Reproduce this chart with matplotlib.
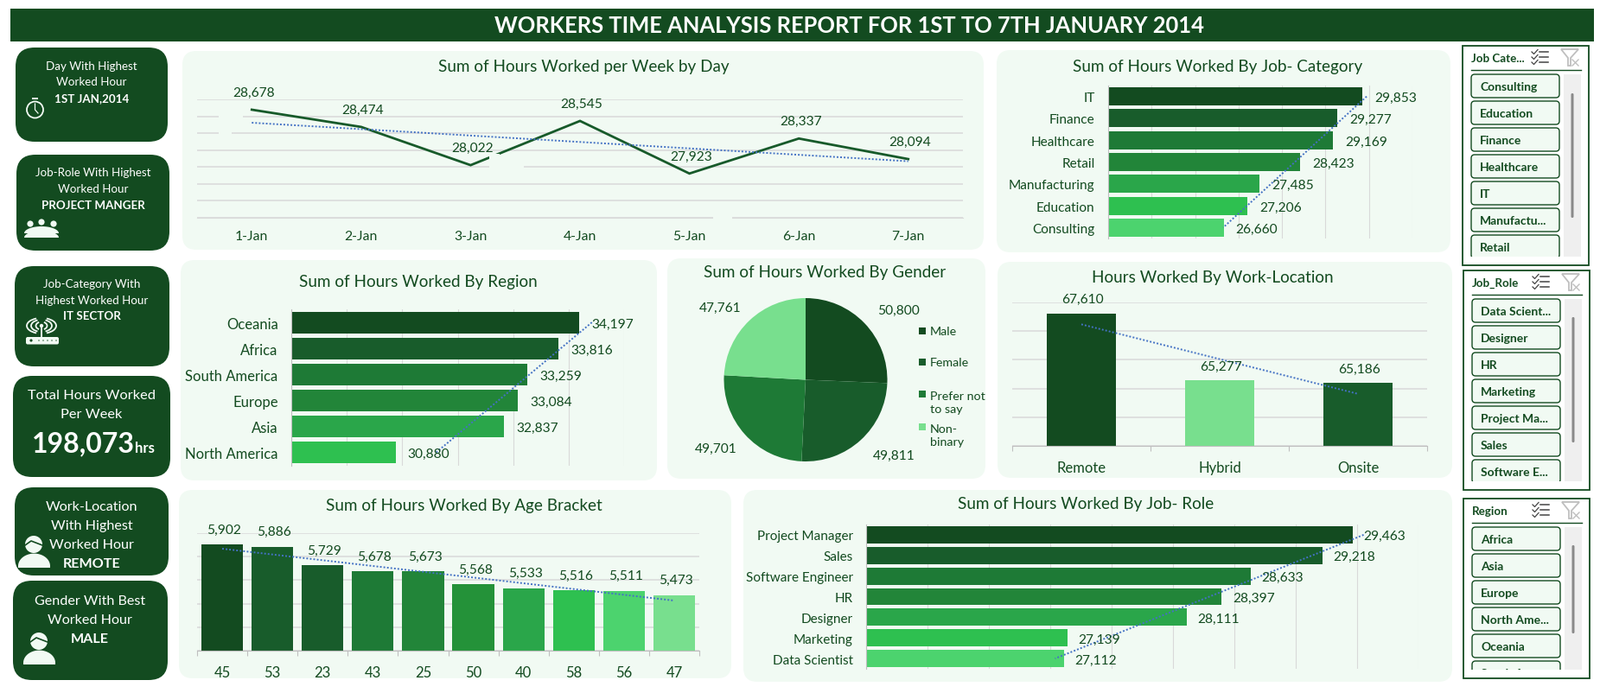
import numpy as np
import matplotlib
matplotlib.use("Agg")
import matplotlib.pyplot as plt
from matplotlib.patches import FancyBboxPatch, Rectangle, Circle, Polygon, Arc
from matplotlib.ticker import MultipleLocator

plt.rcParams['font.family'] = ['Lato', 'DejaVu Sans']

# ---------- data ----------
days = ['1-Jan', '2-Jan', '3-Jan', '4-Jan', '5-Jan', '6-Jan', '7-Jan']
day_hours = [28678, 28474, 28022, 28545, 27923, 28337, 28094]
job_cats = ['IT', 'Finance', 'Healthcare', 'Retail', 'Manufacturing', 'Education', 'Consulting']
job_cat_hours = [29853, 29277, 29169, 28423, 27485, 27206, 26660]
regions = ['Oceania', 'Africa', 'South America', 'Europe', 'Asia', 'North America']
region_hours = [34197, 33816, 33259, 33084, 32837, 30880]
genders = ['Male', 'Female', 'Prefer not\nto say', 'Non-\nbinary']
gender_hours = [50800, 49811, 49701, 47761]
locations = ['Remote', 'Hybrid', 'Onsite']
location_hours = [67610, 65277, 65186]
ages = ['45', '53', '23', '43', '25', '50', '40', '58', '56', '47']
age_hours = [5902, 5886, 5729, 5678, 5673, 5568, 5533, 5516, 5511, 5473]
roles = ['Project Manager', 'Sales', 'Software Engineer', 'HR', 'Designer', 'Marketing', 'Data Scientist']
role_hours = [29463, 29218, 28633, 28397, 28111, 27139, 27112]

slicer_job_cat = ['Consulting', 'Education', 'Finance', 'Healthcare', 'IT', 'Manufactu...', 'Retail']
slicer_job_role = ['Data Scient...', 'Designer', 'HR', 'Marketing', 'Project Ma...', 'Sales', 'Software E...']
slicer_region = ['Africa', 'Asia', 'Europe', 'North Ame...', 'Oceania', 'South A...']

# ---------- style ----------
W, H = 1851, 803
SHIFT = 1
DARK = '#134B20'
LINEC = '#175A2A'
PANEL = '#F1FAF3'
GRID = '#D9D9D9'
AXISC = '#BFBFBF'
TREND = '#4472C4'
ICON = '#F1FAF3'
G7 = ['#134B20', '#185C2B', '#1E7A36', '#228539', '#2AA64A', '#2EC050', '#4CD36E']
G6 = G7[:6]
G10 = ['#134B20', '#185C2B', '#185C2B', '#1E7A36', '#228539', '#249239', '#2AA64A', '#2EC050', '#4CD36E', '#78DF8E']
GPIE = ['#134B20', '#185C2B', '#1E7A36', '#78DF8E']
GLOC = ['#134B20', '#78DF8E', '#185C2B']
VAL = 11.2
TTL = 13.6
TREND_STYLE = dict(color=TREND, lw=1.4, ls=(0, (1, 1.1)))

fig = plt.figure(figsize=(W / 100, H / 100), dpi=100, facecolor='white')
bg = fig.add_axes([0, 0, 1, 1], zorder=0)
bg.set_xlim(0, W)
bg.set_ylim(H - SHIFT, -SHIFT)
bg.axis('off')


def px_axes(x0, y0, x1, y1, z=2):
    y0 += SHIFT
    y1 += SHIFT
    ax = fig.add_axes([x0 / W, 1 - y1 / H, (x1 - x0) / W, (y1 - y0) / H], zorder=z)
    ax.patch.set_alpha(0)
    for s in ax.spines.values():
        s.set_visible(False)
    return ax


def rbox(x0, y0, x1, y1, r, fc, ec='none', lw=0, **kw):
    p = FancyBboxPatch((x0, y0), x1 - x0, y1 - y0, boxstyle=f'round,pad=0,rounding_size={r}',
                       fc=fc, ec=ec, lw=lw, **kw)
    bg.add_patch(p)
    return p


def txt(x, y, s, size, color=DARK, bold=False, ha='center', va='center', **kw):
    return bg.text(x, y, s, fontsize=size, color=color, fontweight='bold' if bold else 'normal',
                   ha=ha, va=va, **kw)


def trend(values):
    idx = np.arange(len(values))
    m, c = np.polyfit(idx, values, 1)
    return idx, m * idx + c


def hbar(rect, cats, vals, colors, lim, step, catsize, off=10):
    ax = px_axes(*rect)
    ypos = np.arange(len(cats))
    ax.barh(ypos, vals, height=0.83, color=colors, zorder=2)
    ax.set_xlim(*lim)
    ax.set_ylim(len(cats) - 0.5, -0.5)
    ax.xaxis.set_major_locator(MultipleLocator(step))
    ax.grid(axis='x', color=GRID, lw=0.8, zorder=1)
    ax.set_axisbelow(True)
    ax.spines['left'].set_visible(True)
    ax.spines['left'].set_color(AXISC)
    ax.set_yticks(ypos, cats)
    ax.tick_params(axis='y', length=0, pad=11, labelsize=catsize, labelcolor=DARK)
    ax.tick_params(axis='x', length=0, labelbottom=False)
    idx, t = trend(vals)
    ax.plot(t, idx, zorder=3, **TREND_STYLE)
    for i, v in enumerate(vals):
        ax.annotate(f'{v:,}', (v, i), xytext=(off, -1), textcoords='offset points', ha='left',
                    va='center', fontsize=VAL, color=DARK, zorder=4, annotation_clip=False)
    return ax


def vaxis_style(ax, n, catsize):
    ax.set_xlim(-0.5, n - 0.5)
    ax.grid(axis='y', color=GRID, lw=1.1, zorder=1)
    ax.set_axisbelow(True)
    ax.tick_params(axis='y', length=0, labelleft=False)
    ax.spines['bottom'].set_visible(True)
    ax.spines['bottom'].set_color(AXISC)
    ax.set_xticks(np.arange(n + 1) - 0.5, minor=True)
    ax.tick_params(axis='x', which='major', length=0, pad=12, labelsize=catsize, labelcolor=DARK)
    ax.tick_params(axis='x', which='minor', length=4, width=0.8, color=AXISC)


# ---------- header ----------
bg.add_patch(Rectangle((12, 10), 1832, 38, fc=DARK, ec='none'))
txt(982, 29, 'WORKERS TIME ANALYSIS REPORT FOR 1ST TO 7TH JANUARY 2014', 18.4, 'white', True)

# ---------- panels ----------
for b in [(211, 59, 1138, 289), (1153, 58, 1678, 292), (209, 301, 760, 556), (772, 299, 1140, 554),
          (1154, 303, 1680, 553), (207, 567, 846, 785), (860, 567, 1680, 789)]:
    rbox(*b, 16, PANEL)

for x, y, s in [(675, 77, 'Sum of Hours Worked per Week by Day'),
                (1409, 76, 'Sum of Hours Worked By Job- Category'),
                (484, 326, 'Sum of Hours Worked By Region'),
                (954, 315, 'Sum of Hours Worked By Gender'),
                (1403, 321, 'Hours Worked By Work-Location'),
                (537, 585, 'Sum of Hours Worked By Age Bracket'),
                (1256, 583, 'Sum of Hours Worked By Job- Role')]:
    txt(x, y, s, TTL)

# ---------- KPI cards ----------
for b in [(18, 55, 194, 164), (19, 179, 196, 290), (17, 308, 196, 424),
          (15, 435, 197, 552), (17, 564, 195, 666), (15, 672, 194, 787)]:
    rbox(*b, 22, DARK)

S = 9.6
W_ = 'white'
txt(106, 76, 'Day With Highest', S, W_)
txt(106, 94, 'Worked Hour', S, W_)
txt(106, 113, '1ST JAN,2014', S, W_, True)
txt(108, 199, 'Job-Role With Highest', S, W_)
txt(108, 218, 'Worked Hour', S, W_)
txt(108, 237, 'PROJECT MANGER', S, W_, True)
txt(106, 328, 'Job-Category With', S, W_)
txt(106, 347, 'Highest Worked Hour', S, W_)
txt(106, 365, 'IT SECTOR', S, W_, True)
txt(106, 457, 'Total Hours Worked', 11.8, W_)
txt(106, 479, 'Per Week', 11.8, W_)
txt(37, 513, '198,073', 23, W_, True, ha='left')
txt(156, 518, 'hrs', 12, W_, True, ha='left')
for y, s, b in [(586, 'Work-Location', False), (608, 'With Highest', False), (630, 'Worked Hour', False), (652, 'REMOTE', True)]:
    txt(106, y, s, 11.6, W_, b)
for y, s, b in [(695, 'Gender With Best', False), (717, 'Worked Hour', False), (739, 'MALE', True)]:
    txt(104, y, s, 11.6, W_, b)


# icons (decoration)
def half_ellipse(cx, base, rx, ry, **kw):
    t = np.linspace(np.pi, 2 * np.pi, 40)
    pts = np.c_[cx + rx * np.cos(t), base + ry * np.sin(t)]
    bg.add_patch(Polygon(pts, closed=True, fc=ICON, ec='none', zorder=3, **kw))


def person(hx, hy, bx, by, bw, bh):
    bg.add_patch(Circle((hx, hy), 10, fc=ICON, ec='none', zorder=3))
    bg.plot([hx - 10, hx - 3, hx + 10], [hy + 1, hy - 4, hy + 1], color=DARK, lw=1.2, zorder=4)
    half_ellipse(bx, by - 1, bw / 2, bh * 0.9)
    bg.add_patch(Rectangle((bx - bw / 2, by - 2), bw, 3, fc=ICON, ec='none', zorder=3))


bg.add_patch(Circle((40.5, 127), 9.5, fc='none', ec=ICON, lw=1.3, zorder=3))
bg.add_patch(Rectangle((37, 113), 7, 2, fc=ICON, ec='none', zorder=3))
bg.plot([40.5, 40.5, 44], [120, 127, 131], color=ICON, lw=0.9, zorder=3)
for hx, hy in [(35, 259), (48, 257), (62, 259)]:
    bg.add_patch(Circle((hx, hy), 3.6, fc=ICON, ec='none', zorder=3))
half_ellipse(48, 270, 20, 8)
half_ellipse(48, 275, 20, 8)
bg.plot([48, 48], [377, 391], color=ICON, lw=1.4, zorder=3)
bg.add_patch(Circle((48, 377), 2.2, fc=ICON, ec='none', zorder=3))
for dw, dh in ((13, 9), (24, 14), (34, 18)):
    bg.add_patch(Arc((48, 377), dw, dh, theta1=-55, theta2=55, ec=ICON, lw=1.3, zorder=3))
    bg.add_patch(Arc((48, 377), dw, dh, theta1=125, theta2=235, ec=ICON, lw=1.3, zorder=3))
bg.add_patch(FancyBboxPatch((30, 390), 38, 8.5, boxstyle='round,pad=0,rounding_size=2', fc=ICON, ec='none', zorder=3))
bg.add_patch(Circle((36, 394), 1.6, fc=DARK, ec='none', zorder=4))
for dx in (45, 50, 55, 60, 65):
    bg.add_patch(Circle((dx, 394), 0.7, fc=DARK, ec='none', zorder=4))
person(39, 630, 39.5, 656, 37, 16)
person(45, 742, 45.5, 768, 37, 16)


# ---------- slicers ----------
def slicer(x0, y0, x1, y1, title, items, th0, th1):
    bg.add_patch(Rectangle((x0, y0), x1 - x0, y1 - y0, fc='white', ec=DARK, lw=1.3, zorder=1))
    txt(x0 + 10, y0 + 14, title, 9.6, DARK, True, ha='left', zorder=2)
    bg.plot([x0 + 10, x1 - 9], [y0 + 28, y0 + 28], color=DARK, lw=1, zorder=2)
    # multi-select icon
    ix = x0 + 80
    for k in range(3):
        yy = y0 + 7 + k * 6
        bg.plot([ix, ix + 2.5, ix + 7], [yy, yy + 2.5, yy - 2.5], color='#444444', lw=0.9, zorder=2)
        bg.plot([ix + 9, ix + 19], [yy, yy], color='#444444', lw=1.1, zorder=2)
    # clear-filter icon
    fx = x0 + 114
    bg.add_patch(Polygon([(fx, y0 + 4), (fx + 20, y0 + 4), (fx + 11, y0 + 14), (fx + 11, y0 + 23), (fx + 8, y0 + 23), (fx + 8, y0 + 14)],
                         closed=True, fc='none', ec='#BFBFBF', lw=1.3, zorder=2))
    bg.plot([fx + 13, fx + 20], [y0 + 16, y0 + 23], color='#BFBFBF', lw=1, zorder=2)
    bg.plot([fx + 20, fx + 13], [y0 + 16, y0 + 23], color='#BFBFBF', lw=1, zorder=2)
    # list
    top, bottom = y0 + 33, y1 - 10
    clip = Rectangle((x0, top - 1), x1 - x0, bottom - top + 1, transform=bg.transData)
    bg.add_patch(Rectangle((x0 + 117, top), 20, bottom - top, fc='#EFEFEF', ec='none', zorder=2))
    bg.add_patch(FancyBboxPatch((x0 + 125.5, th0), 3, th1 - th0, boxstyle='round,pad=0,rounding_size=1.4', fc='#8A8A8A', ec='none', zorder=3))
    for i, it in enumerate(items):
        by = top + i * 31
        p = rbox(x0 + 10, by, x0 + 112, by + 27, 4, PANEL, ec=DARK, lw=1, zorder=2)
        p.set_clip_path(clip)
        t = txt(x0 + 20, by + 14, it, 10, DARK, True, ha='left', zorder=3)
        t.set_clip_on(True)
        t.set_clip_path(clip)


slicer(1692, 53, 1838, 307, 'Job Cate...', slicer_job_cat, 108, 252)
slicer(1693, 313, 1839, 567, 'Job_Role', slicer_job_role, 367, 512)
slicer(1693, 577, 1839, 785, 'Region', slicer_region, 631, 733)

# ---------- line chart ----------
ax = px_axes(228, 115, 1114, 252)
xp = np.arange(len(days))
ax.plot(xp, day_hours, color=LINEC, lw=2.0, zorder=3, solid_joinstyle='miter')
ax.set_ylim(27400, 28800)
vaxis_style(ax, len(days), 11.3)
ax.set_xticks(xp, days)
ax.yaxis.set_major_locator(MultipleLocator(200))
ax.spines['bottom'].set_color(GRID)
ax.tick_params(axis='x', which='minor', length=0)
ax.tick_params(axis='x', which='major', pad=10)
idx, t = trend(day_hours)
ax.plot(idx, t, zorder=4, **TREND_STYLE)
for i, v in zip(xp, day_hours):
    ax.annotate(f'{v:,}', (i, v), xytext=(1.5, 14.5), textcoords='offset points', ha='center', va='center',
                fontsize=VAL, color=DARK, annotation_clip=False, zorder=7)
# smudges in the source picture, where the chart is erased
for x0, y0, x1, y1 in [(566, 178, 578, 197), (566, 190, 606, 196), (253, 133, 281, 137), (253, 152, 268, 156), (825, 250, 847, 254)]:
    ax.add_patch(Rectangle((x0, y0), x1 - x0, y1 - y0, transform=bg.transData, fc=PANEL, ec='none', zorder=6, clip_on=False))

# ---------- horizontal bars ----------
hbar((1282, 99, 1634, 276), job_cats, job_cat_hours, G7, (24000, 31000), 1000, 11.1)
hbar((337, 358, 722, 539), regions, region_hours, G6, (29000, 35000), 1000, 12)
hbar((1002, 607, 1641, 774), roles, role_hours, G7, (25500, 30000), 500, 11, off=9)

# ---------- gender pie ----------
ax = px_axes(837.5, 345, 1026.5, 534)
wedges, labels = ax.pie(gender_hours, colors=GPIE, startangle=90, counterclock=False,
                        labels=[f'{v:,}' for v in gender_hours],
                        textprops={'fontsize': VAL, 'color': DARK})
for lb, pos in zip(labels, [(1.132, 0.857), (1.079, -0.921), (-1.10, -0.841), (-1.048, 0.889)]):
    lb.set_ha('center')
    lb.set_va('center')
    lb.set_position(pos)
ax.set_xlim(-1, 1)
ax.set_ylim(-1, 1)
for y, g, c in zip([383, 419, 456, 494], genders, GPIE):
    bg.add_patch(Rectangle((1062.5, y - 4), 8, 8, fc=c, ec='none', zorder=3))
    txt(1076, y if '\n' not in g else y + 9.5, g, 10.3, DARK, ha='left', linespacing=1.3, zorder=3)

# ---------- work location ----------
ax = px_axes(1171, 350, 1651, 516)
xp = np.arange(len(locations))
ax.bar(xp, location_hours, width=0.5, color=GLOC, zorder=2)
ax.set_ylim(63000, 68000)
vaxis_style(ax, len(locations), 12)
ax.yaxis.set_major_locator(MultipleLocator(1000))
ax.set_xticks(xp, locations)
idx, t = trend(location_hours)
ax.plot(idx, t, zorder=4, **TREND_STYLE)
for i, v in zip(xp, location_hours):
    ax.annotate(f'{v:,}', (i, v), xytext=(1, 12), textcoords='offset points', ha='center', va='center',
                fontsize=VAL, color=DARK, annotation_clip=False, zorder=5)

# ---------- age ----------
ax = px_axes(228, 617, 809, 753)
xp = np.arange(len(ages))
ax.bar(xp, age_hours, width=0.83, color=G10, zorder=2)
ax.set_ylim(5000, 6000)
vaxis_style(ax, len(ages), 12)
ax.yaxis.set_major_locator(MultipleLocator(200))
ax.set_xticks(xp, ages)
idx, t = trend(age_hours)
ax.plot(idx, t, zorder=4, **TREND_STYLE)
for i, v in zip(xp, age_hours):
    ax.annotate(f'{v:,}', (i, v), xytext=(1.5, 12.5), textcoords='offset points', ha='center', va='center',
                fontsize=VAL, color=DARK, annotation_clip=False, zorder=5)

fig.savefig('out.png', dpi=100, facecolor='white')
